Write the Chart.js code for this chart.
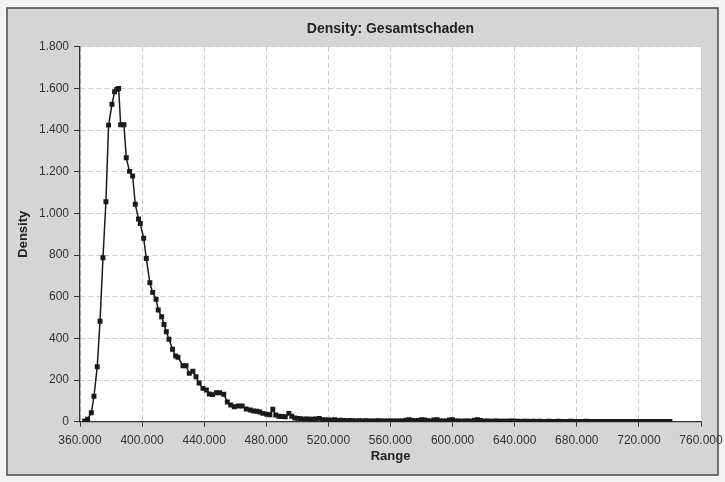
<!DOCTYPE html>
<html><head><meta charset="utf-8">
<script src="https://cdn.jsdelivr.net/npm/chart.js@4.4.1/dist/chart.umd.min.js"></script>
<style>html,body{margin:0;padding:0;background:#f2f2f2;overflow:hidden}#wrap{position:relative;width:725px;height:482px}</style>
</head><body><div id="wrap"><canvas id="c"></canvas></div>
<script>
const chartTitle = 'Density: Gesamtschaden';
const xAxisTitle = 'Range';
const yAxisTitle = 'Density';

// Range values (in thousands) of each plotted point
const rangeThousands = [
363.0,364.9,367.3,369.0,371.1,372.9,374.8,376.7,378.4,380.6,382.3,383.8,384.9,386.2,388.3,389.8,391.9,393.9,395.6,397.7,
398.8,401.0,402.7,405.0,406.8,409.0,410.4,412.6,414.1,415.6,417.3,419.6,421.6,423.1,426.3,428.3,430.4,432.7,434.7,436.7,
439.2,441.4,443.3,445.4,447.8,449.9,452.6,454.9,457.1,459.4,462.0,464.5,467.1,469.7,471.8,474.0,475.8,477.8,480.3,482.3,
484.2,486.1,488.1,490.0,492.2,494.5,496.4,498.4,500.3,502.2,504.2,506.1,508.0,510.0,511.9,514.1,516.1,518.0,
520,522,524,526,528,530,532,534,536,538,540,542,544,546,548,550,552,554,556,558,
560,562,564,566,568,570,572,574,576,578,580,582,584,586,588,590,592,594,596,598,
600,602,604,606,608,610,612,614,616,618,620,622,624,626,628,630,632,634,636,638,
640,642,644,646,648,650,652,654,656,658,660,662,664,666,668,670,672,674,676,678,
680,682,684,686,688,690,692,694,696,698,700,702,704,706,708,710,712,714,716,718,
720,722,724,726,728,730,732,734,736,738,740
];
// Density values of each plotted point
const densityValues = [
3,12,43,122,264,482,787,1056,1424,1524,1584,1596,1600,1426,1426,1267,1202,1180,1044,973,
952,881,784,667,621,588,536,504,467,432,396,348,315,309,269,269,232,242,216,186,
160,152,133,130,139,139,132,95,80,72,75,75,61,56,51,50,47,40,36,33,
60,32,26,25,24,40,26,18,16,14,12,13,12,12,13,16,10,8,
8,7,9,6,7,6,5,6,5,4,5,4,5,4,3,4,5,3,4,3,
4,3,3,4,3,7,9,6,5,6,9,8,5,4,8,9,4,3,4,8,
9,3,3,2,3,3,2,7,9,6,2,3,2,2,3,2,2,2,2,3,
2,2,1,2,2,1,2,1,2,1,1,2,1,1,2,1,1,1,2,1,
1,1,1,2,1,1,1,1,1,1,1,1,1,1,1,1,1,1,1,1,
1,1,1,1,1,1,1,1,1,1,1
];

const xMin = 360000, xMax = 760000, xStep = 40000;
const yMin = 0, yMax = 1800, yStep = 200;

const points = rangeThousands.map((r, i) => ({x: r * 1000, y: densityValues[i]}));
const fmtDE = v => Math.round(v).toString().replace(/\B(?=(\d{3})+(?!\d))/g, '.');

const frame = {
  id: 'frame',
  afterLayout(chart) {
    // centre the chart title over the plot area
    const tb = chart.titleBlock;
    if (tb) { tb.left = chart.chartArea.left; tb.right = chart.chartArea.right; tb.width = tb.right - tb.left; }
  },
  beforeDraw(chart) {
    const {ctx, chartArea: a} = chart;
    ctx.save();
    ctx.fillStyle = '#f2f2f2';
    ctx.fillRect(0, 0, chart.width, chart.height);
    ctx.fillStyle = '#d5d5d5';
    ctx.fillRect(7, 8, 711, 467);
    ctx.strokeStyle = '#4a4a4a';
    ctx.lineWidth = 1.5;
    ctx.strokeRect(7, 8, 711, 467);
    ctx.fillStyle = '#ffffff';
    ctx.fillRect(a.left, a.top, a.right - a.left, a.bottom - a.top);
    ctx.restore();
  }
};

const FONT = '"Liberation Sans", Arial, sans-serif';

new Chart(document.getElementById('c'), {
  type: 'line',
  data: {
    datasets: [{
      data: points,
      borderColor: '#1a1a1a',
      borderWidth: 1.5,
      backgroundColor: '#1a1a1a',
      pointStyle: 'rect',
      pointRadius: 3.5,
      pointBorderWidth: 0,
      pointBackgroundColor: '#1a1a1a',
      tension: 0,
      fill: false
    }]
  },
  plugins: [frame],
  options: {
    responsive: true,
    maintainAspectRatio: false,
    animation: false,
    devicePixelRatio: 1,
    layout: {padding: {left: 0, right: 24, top: 0, bottom: 0}},
    plugins: {
      legend: {display: false},
      tooltip: {enabled: false},
      title: {
        display: true,
        text: chartTitle,
        color: '#222',
        font: {family: FONT, size: 14, weight: 'bold', lineHeight: 1.2},
        padding: {top: 21, bottom: 9}
      }
    },
    scales: {
      x: {
        type: 'linear',
        min: xMin, max: xMax,
        afterFit(s) { s.height = 60.3; s.paddingLeft = 0; s.paddingRight = 0; },
        ticks: {stepSize: xStep, color: '#333', padding: 7, maxRotation: 0, autoSkip: false,
          font: {family: FONT, size: 12}, callback: v => fmtDE(v)},
        grid: {color: '#cdcdcd', lineWidth: 1, tickColor: '#333', tickLength: 5, drawTicks: true},
        border: {display: true, color: '#333', width: 1.3, dash: [5, 3]},
        title: {display: true, text: xAxisTitle, color: '#222',
          font: {family: FONT, size: 13, weight: 'bold', lineHeight: 1.2}, padding: {top: 2, bottom: 18}}
      },
      y: {
        min: yMin, max: yMax,
        afterFit(s) { s.width = 80; s.paddingTop = 0; s.paddingBottom = 0; },
        ticks: {stepSize: yStep, color: '#333', padding: 5,
          font: {family: FONT, size: 12}, callback: v => fmtDE(v)},
        grid: {color: '#cdcdcd', lineWidth: 1, tickColor: '#333', tickLength: 6, drawTicks: true},
        border: {display: true, color: '#333', width: 1.3, dash: [5, 3]},
        title: {display: true, text: yAxisTitle, color: '#222',
          font: {family: FONT, size: 13, weight: 'bold', lineHeight: 1.2}, padding: {top: 16, bottom: 0}}
      }
    }
  }
});
</script></body></html>
